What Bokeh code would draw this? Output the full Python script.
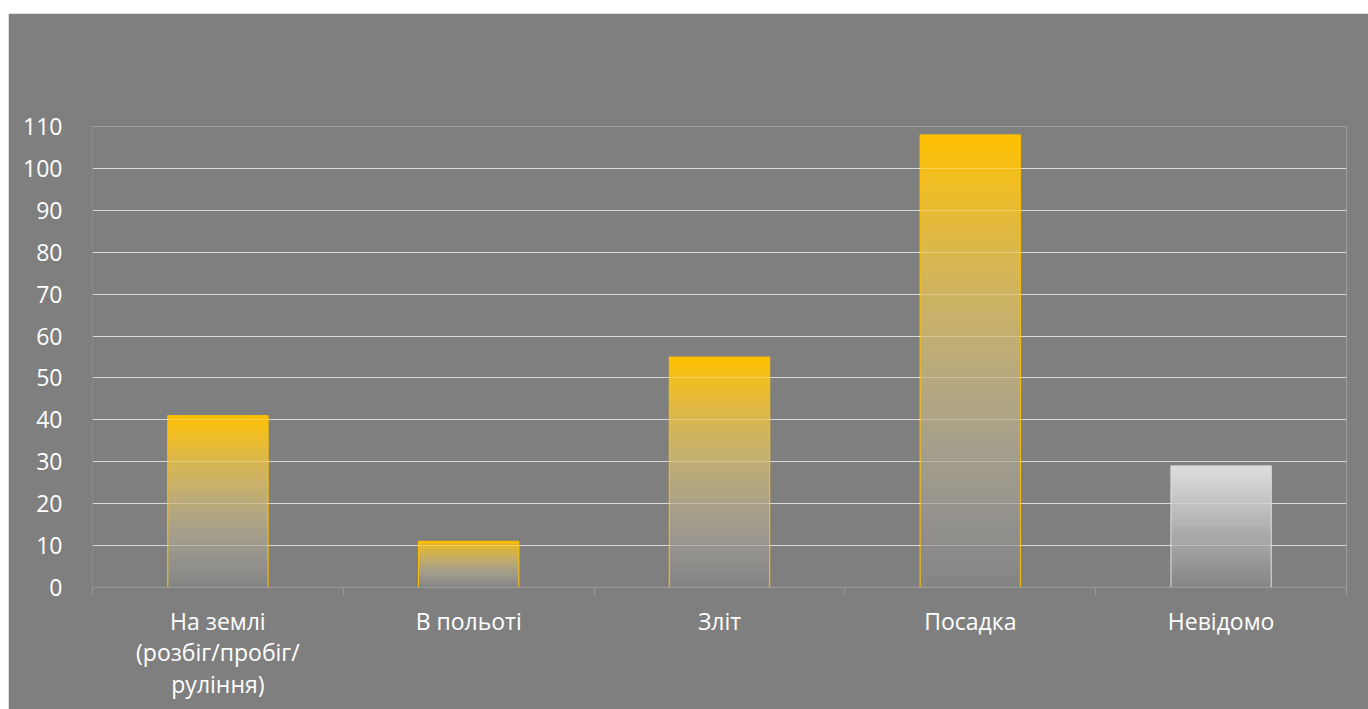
from bokeh.plotting import figure
from bokeh.models import Range1d, FixedTicker, Grid
from bokeh.embed import file_html
from bokeh.resources import INLINE

# ---- data ----
categories = ["На землі\n(розбіг/пробіг/\nруління)", "В польоті", "Зліт", "Посадка", "Невідомо"]
values = [41, 11, 55, 108, 29]
y_ticks = [0, 10, 20, 30, 40, 50, 60, 70, 80, 90, 100, 110]
bar_top_colors = [(255, 192, 0), (255, 192, 0), (255, 192, 0), (255, 192, 0), (232, 232, 232)]
bar_line_colors = ["#FFC000", "#FFC000", "#FFC000", "#FFC000", "#D9D9D9"]

BG = (127, 127, 127)
BG_HEX = "#7f7f7f"
FONT = "Open Sans"

p = figure(width=1360, height=696, output_backend="svg", toolbar_location=None,
           x_range=Range1d(0, len(categories)), y_range=Range1d(0, 110),
           background_fill_color=BG_HEX, border_fill_color=BG_HEX,
           min_border_left=84, min_border_right=22, min_border_top=113, min_border_bottom=122,
           margin=(13, 0, 0, 8))
p.outline_line_color = None

# gradient bars as thin opaque slices (composited over background)
N = 120
light = (230, 230, 230)
for i, (v, top_c, lc) in enumerate(zip(values, bar_top_colors, bar_line_colors)):
    xs, bots, tops, cols = [], [], [], []
    for k in range(N):
        t = 1 - (k + 0.5) / N  # 0 at top, 1 at bottom
        if i == 4:
            c = top_c
            a = 0.9 - 0.84 * t
        else:
            c = tuple(top_c[j] * (1 - t) + light[j] * t for j in range(3))
            a = 1.0 - 0.95 * t
        comp = tuple(int(round(a * c[j] + (1 - a) * BG[j])) for j in range(3))
        xs.append(i + 0.5)
        bots.append(v * k / N)
        tops.append(min(v, v * (k + 1.6) / N))
        cols.append("#%02x%02x%02x" % comp)
    p.vbar(x=xs, bottom=bots, top=tops, width=0.4, fill_color=cols, line_color=None)
    p.vbar(x=[i + 0.5], bottom=[0], top=[v], width=0.4, fill_color=None,
           line_color=lc, line_width=1.2, line_alpha=0.9)

# grid: dimmer underlay + faint overlay so lines show softly through bars
p.xgrid.visible = False
p.ygrid.ticker = FixedTicker(ticks=y_ticks[1:])
p.ygrid.grid_line_color = "#cacaca"
p.ygrid.grid_line_width = 1
p.ygrid.level = "underlay"
over = Grid(dimension=1, ticker=FixedTicker(ticks=y_ticks[1:]), grid_line_color="white",
            grid_line_alpha=0.28, grid_line_width=1, level="overlay")
p.add_layout(over)

# x axis
xa = p.xaxis[0]
xa.ticker = FixedTicker(ticks=[i + 0.5 for i in range(len(categories))],
                        minor_ticks=list(range(len(categories) + 1)))
xa.major_label_overrides = {i + 0.5: c for i, c in enumerate(categories)}
xa.major_tick_line_color = None
xa.minor_tick_line_color = "#9a9a9a"
xa.minor_tick_out = 8
xa.minor_tick_in = 0
xa.axis_line_color = "#9a9a9a"
xa.major_label_text_color = "white"
xa.major_label_text_font = FONT
xa.major_label_text_font_size = "23px"
xa.major_label_text_line_height = 0.99
xa.major_label_standoff = 9

# y axis
ya = p.yaxis[0]
ya.ticker = FixedTicker(ticks=y_ticks)
ya.major_tick_line_color = None
ya.minor_tick_line_color = None
ya.axis_line_color = "#8c8c8c"
ya.major_label_text_color = "white"
ya.major_label_text_font = FONT
ya.major_label_text_font_size = "23px"
ya.major_label_standoff = 24

open("out.html", "w").write(file_html(p, INLINE))
